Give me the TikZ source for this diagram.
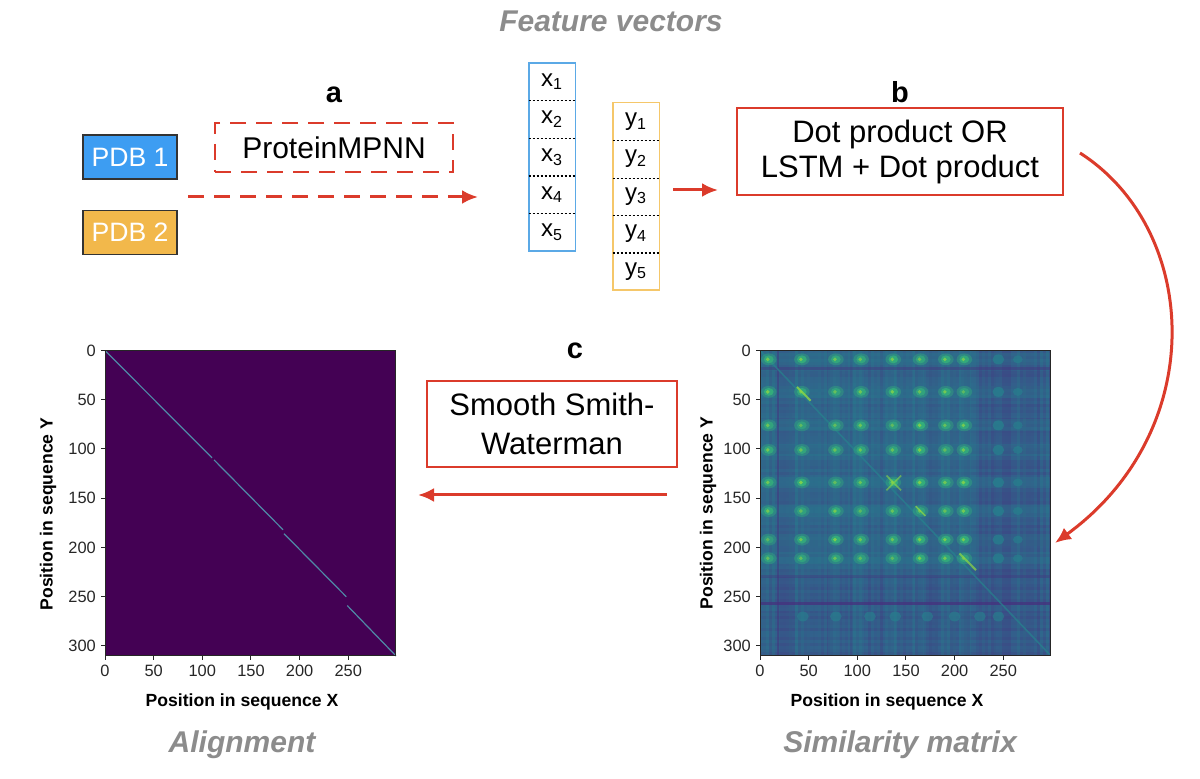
\documentclass[tikz,border=0pt]{standalone}
\usepackage{fontspec}
\setmainfont{Liberation Sans}
\usetikzlibrary{arrows.meta}

\definecolor{pdbblue}{HTML}{3D9DF2}
\definecolor{pdborange}{HTML}{F2B84B}
\definecolor{vecblue}{HTML}{5BA9E6}
\definecolor{vecorange}{HTML}{F5C76A}
\definecolor{flowred}{HTML}{DB3B2B}
\definecolor{captiongray}{HTML}{8C8C8C}
\definecolor{vpurple}{HTML}{440154}
\definecolor{vdark}{HTML}{46307E}
\definecolor{vbase}{HTML}{31678E}
\definecolor{vteal}{HTML}{26828E}
\definecolor{vgreen}{HTML}{35B779}
\definecolor{vlime}{HTML}{8FD744}
\definecolor{diagline}{HTML}{5089A6}

\begin{document}
\begin{tikzpicture}[x=0.5pt, y=-0.5pt,
    caption/.style={font=\fontsize{15}{18}\selectfont\bfseries\itshape, text=captiongray, anchor=base},
    steplabel/.style={font=\fontsize{14.5}{17}\selectfont\bfseries, anchor=base},
    pdbbox/.style={draw=black!80, line width=0.7pt, text=white, minimum width=47pt,
        minimum height=22pt, inner sep=0pt, font=\fontsize{13.3}{16}\selectfont},
    procbox/.style={draw=flowred, line width=1.3pt, align=center, inner sep=0pt},
    vcell/.style={minimum width=23pt, minimum height=18.7pt, inner sep=0pt,
        font=\fontsize{12}{13}\selectfont},
    divider/.style={dash pattern=on 1pt off 1pt, line width=0.6pt},
    flow/.style={draw=flowred, line width=1.5pt, -{Latex[length=8pt,width=7pt]}},
    ticklabel/.style={font=\fontsize{8.2}{9}\selectfont, text=black!85, inner sep=1pt},
    axislabel/.style={font=\fontsize{8.8}{10}\selectfont\bfseries},
    axisframe/.style={draw=black!85, line width=0.5pt},
]

    % Fix the page to the size of the reference
    \useasboundingbox (0,0) rectangle (1200,779);

    % Captions of the three stages
    \node[caption] (featcap) at (611,32) {Feature vectors};
    \node[caption] (aligncap) at (242,753) {Alignment};
    \node[caption] (simcap) at (900,753) {Similarity matrix};

    % Step a: the two structures and ProteinMPNN
    \node[pdbbox, fill=pdbblue] (pdb1) at (130,157) {PDB 1};
    \node[pdbbox, fill=pdborange] (pdb2) at (130,232.5) {PDB 2};
    \node[draw=flowred, dash pattern=on 8pt off 5pt, line width=1.4pt, minimum width=119pt,
        minimum height=24.5pt, inner sep=0pt, font=\fontsize{15}{18}\selectfont]
        (mpnn) at (334,147.5) {ProteinMPNN};
    \node[steplabel] (labela) at (334,103) {a};

    % Feature vectors x and y, one cell per position
    \foreach \i in {1,...,5} {
        \node[vcell] (x\i) at (552,{44.2+37.6*\i}) {x\textsubscript{\i}};
        \node[vcell] (y\i) at (636,{84.3+37.4*\i}) {y\textsubscript{\i}};
    }
    \draw[vecblue, line width=0.9pt] (x1.north west) rectangle (x5.south east);
    \draw[vecorange, line width=0.9pt] (y1.north west) rectangle (y5.south east);
    \foreach \i in {1,...,4} {
        \draw[divider] (x\i.south west) -- (x\i.south east);
        \draw[divider] (y\i.south west) -- (y\i.south east);
    }

    % Step b: scoring box
    \node[procbox, minimum width=163pt, minimum height=43.5pt,
        font=\fontsize{15.5}{17.5}\selectfont] (dotbox) at (900,151.5)
        {Dot product OR\\LSTM + Dot product};
    \node[steplabel] (labelb) at (900,103) {b};

    % Step c: alignment box
    \node[procbox, minimum width=125pt, minimum height=43pt,
        font=\fontsize{15.5}{19.3}\selectfont] (swbox) at (552,424)
        {Smooth Smith-\\Waterman};
    \node[steplabel] (labelc) at (575,359) {c};

    % Flow arrows between the stages
    \coordinate (mpnnin) at (188,197);
    \coordinate (mpnnout) at (478,197);
    \coordinate (vecout) at (673,190);
    \coordinate (dotin) at (718,190);
    \coordinate (dotout) at (1080,153);
    \coordinate (simin) at (1055,543);
    \coordinate (simout) at (667,495);
    \coordinate (alignin) at (418,495);
    \draw[flow, dash pattern=on 8pt off 5pt] (mpnnin) -- (mpnnout);
    \draw[flow] (vecout) -- (dotin);
    \draw[flow] (dotout) .. controls (1200,230) and (1210,430) .. (simin);
    \draw[flow] (simout) -- (alignin);

    % Alignment plot (left)
    \begin{scope}[shift={(105,350.5)}, xscale=0.973, yscale=0.985]
        \fill[vpurple] (0,0) rectangle (299,310);
        \draw[diagline, line width=0.6pt] (0,0) -- (110,109) (112,111) -- (183,182)
            (184,186) -- (248,250) (249,259) -- (299,310);
        \draw[axisframe] (0,0) rectangle (299,310);
        \foreach \t in {0,50,...,250} {
            \draw[axisframe] (\t,310) -- (\t,314);
            \node[ticklabel, anchor=north] (alx\t) at (\t,317) {\t};
        }
        \foreach \t in {0,50,...,300} {
            \draw[axisframe] (0,\t) -- (-4,\t);
            \node[ticklabel, anchor=east] (aly\t) at (-7,\t) {\t};
        }
    \end{scope}
    \node[axislabel, anchor=base] (alxlabel) at (242,707) {Position in sequence X};
    \node[axislabel, rotate=90] (alylabel) at (48,514) {Position in sequence Y};

    % Similarity matrix plot (right)
    \begin{scope}[shift={(760,350.5)}, xscale=0.973, yscale=0.985]
        \begin{scope}
            \clip (0,0) rectangle (299,310);
            \fill[vbase] (0,0) rectangle (299,310);
            % grain of the matrix
            \pgfmathsetseed{42}
            \foreach \c in {0,3,...,297} {
                \pgfmathsetmacro\dk{0.3*rnd}
                \fill[vdark, opacity=\dk] (\c,0) rectangle ++(3,310);
            }
            \foreach \r in {0,3,...,309} {
                \pgfmathsetmacro\dk{0.3*rnd}
                \fill[vdark, opacity=\dk] (0,\r) rectangle ++(299,3);
            }
            \foreach \c in {0,6,...,294} {
                \pgfmathsetmacro\lt{0.25*rnd}
                \fill[vteal, opacity=\lt] (\c,0) rectangle ++(3,310);
            }
            \fill[vteal, opacity=0.2] (0,0) rectangle (225,230);
            \foreach \s in {9,42,76,101,134,163,192,211} {
                \fill[vteal, opacity=0.25] (0,{\s-6}) rectangle (299,{\s+6});
                \fill[vteal, opacity=0.2] ({\s-6},0) rectangle ({\s+6},310);
            }
            % darker bands
            \fill[vdark, opacity=0.45] (17,0) rectangle (20,310);
            \fill[vdark, opacity=0.4] (0,17) rectangle (299,20);
            \fill[vdark, opacity=0.35] (0,228) rectangle (299,231);
            \fill[vdark, opacity=0.7] (0,255) rectangle (299,258);
            % faint main diagonal
            \draw[vteal, opacity=0.7, line width=0.8pt] (0,0) -- (299,310);
            % bright spots
            \foreach \sx in {9,43,78,104,137,165,191,210} {
                \foreach \sy in {9,42,76,101,134,163,192,211} {
                    \pgfmathsetmacro\op{0.45+0.35*rnd}
                    \fill[vgreen, opacity=0.35] (\sx,\sy) ellipse (8 and 6);
                    \fill[vgreen, opacity=\op] (\sx,\sy) ellipse (5 and 4);
                    \fill[vlime, opacity=\op] ({\sx-1},\sy) circle (2);
                }
                \fill[vteal, opacity=0.6] ({\sx+35},270) ellipse (6 and 5);
            }
            \foreach \sy in {9,42,76,101,134,163,192,211} {
                \fill[vteal, opacity=0.7] (245,\sy) ellipse (6 and 5);
                \fill[vteal, opacity=0.6] (265,\sy) ellipse (5 and 4);
            }
            % diagonal streaks
            \draw[vlime, line width=1pt, opacity=0.8] (38,37) -- (52,51);
            \draw[vlime, line width=0.8pt, opacity=0.6] (130,127) -- (145,142)
                (145,127) -- (130,142);
            \draw[vlime, line width=1pt, opacity=0.7] (205,206) -- (222,223);
            \draw[vlime, line width=0.8pt, opacity=0.7] (160,158) -- (170,168);
        \end{scope}
        \draw[axisframe] (0,0) rectangle (299,310);
        \foreach \t in {0,50,...,250} {
            \draw[axisframe] (\t,310) -- (\t,314);
            \node[ticklabel, anchor=north] (smx\t) at (\t,317) {\t};
        }
        \foreach \t in {0,50,...,300} {
            \draw[axisframe] (0,\t) -- (-4,\t);
            \node[ticklabel, anchor=east] (smy\t) at (-7,\t) {\t};
        }
    \end{scope}
    \node[axislabel, anchor=base] (smxlabel) at (887,707) {Position in sequence X};
    \node[axislabel, rotate=90] (smylabel) at (708,513) {Position in sequence Y};

\end{tikzpicture}
\end{document}
